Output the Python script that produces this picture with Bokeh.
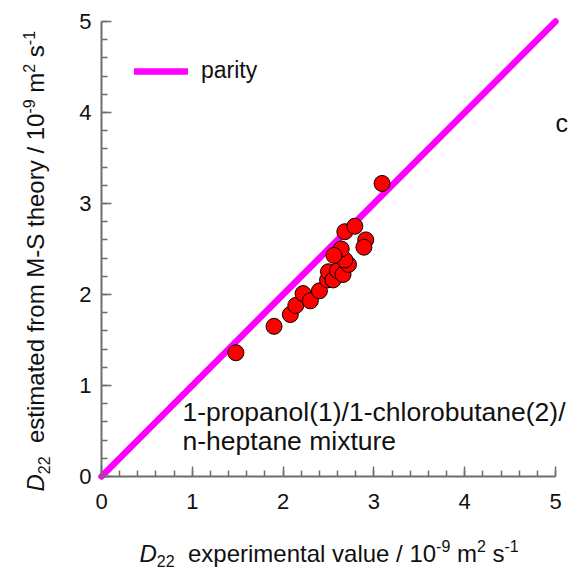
import math
from bokeh.plotting import figure
from bokeh.models import (Range1d, SingleIntervalTicker, Label, Legend, LegendItem)
from bokeh.embed import file_html
from bokeh.resources import INLINE

# ---------------- data ----------------
d22_experimental = [1.48, 1.90, 2.08, 2.14, 2.22, 2.30, 2.40, 2.49, 2.50, 2.55, 2.60,
                    2.66, 2.72, 2.68, 2.64, 2.56, 2.68, 2.79, 2.91, 2.89, 3.09]
d22_estimated = [1.36, 1.65, 1.78, 1.88, 2.01, 1.93, 2.04, 2.16, 2.25, 2.16, 2.26,
                 2.22, 2.33, 2.38, 2.50, 2.43, 2.69, 2.75, 2.60, 2.52, 3.22]
parity_x = [0, 5]
parity_y = [0, 5]
axis_min, axis_max = 0, 5

# ---------------- layout ----------------
FONT = "Liberation Sans"
W, H = 569, 569
AX_L, AX_R = 101.0, 555.0     # window px of x=0 and x=5
AX_B, AX_T = 476.0, 21.0      # window px of y=0 and y=5
PXX = (AX_R - AX_L) / (axis_max - axis_min)
PXY = (AX_B - AX_T) / (axis_max - axis_min)

x_range = Range1d(axis_min - AX_L / PXX, axis_min + (W - AX_L) / PXX)
y_range = Range1d(axis_min - (H - AX_B) / PXY, axis_min + AX_B / PXY)

p = figure(width=W, height=H, output_backend="svg", toolbar_location=None,
           x_range=x_range, y_range=y_range,
           min_border=0, background_fill_color="white", border_fill_color="white")
p.outline_line_color = None
p.grid.visible = False

for ax in (p.xaxis[0], p.yaxis[0]):
    ax.fixed_location = 0
    ax.bounds = (axis_min, axis_max)
    ax.ticker = SingleIntervalTicker(interval=1, num_minor_ticks=5)
    ax.axis_line_color = "#6e6e6e"
    ax.axis_line_width = 2
    ax.major_tick_line_color = "#6e6e6e"
    ax.minor_tick_line_color = "#6e6e6e"
    ax.major_tick_line_width = 1.5
    ax.minor_tick_line_width = 1.5
    ax.major_tick_in = 10
    ax.major_tick_out = 0
    ax.minor_tick_in = 6
    ax.minor_tick_out = 0
    ax.major_label_text_font = FONT
    ax.major_label_text_font_size = "22px"
    ax.major_label_text_color = "#111111"
p.xaxis[0].major_label_standoff = 17
p.yaxis[0].major_label_standoff = 10

# parity line
parity = p.line(parity_x, parity_y, line_color="#ff00ff", line_width=6.5, line_cap="round")
# data points
p.scatter(d22_experimental, d22_estimated, size=16, fill_color="#ff0000",
          line_color="#000000", line_width=1)

# helpers: window px -> data
def dx(px):
    return axis_min + (px - AX_L) / PXX
def dy(py):
    return axis_min + (AX_B - py) / PXY

legend = Legend(items=[LegendItem(label="parity", renderers=[parity])],
                location=(134, H - 72 - 12), orientation="vertical",
                glyph_width=54, glyph_height=24, label_standoff=13,
                padding=0, margin=0, spacing=0,
                border_line_color=None, background_fill_alpha=0,
                label_text_font=FONT, label_text_font_size="23px",
                label_text_color="#111111")
p.add_layout(legend, "center")

AW = {' ': 278, '-': 333, '/': 278, '(': 333, ')': 333, '0': 556, '1': 556, '2': 556,
      '9': 556, 'a': 556, 'd': 556, 'e': 556, 'f': 278, 'h': 556, 'i': 222, 'l': 222,
      'm': 833, 'n': 556, 'o': 556, 'p': 556, 'r': 333, 's': 500, 't': 278, 'u': 556,
      'v': 500, 'x': 500, 'y': 500, 'D': 722, 'M': 833, 'S': 667}
def tw(s, size):
    return sum(AW.get(c, 556) for c in s) * size / 1000.0

BL = 0.37   # observed baseline shift of Label text (fraction of font size)

F = 24
S = 16
SUB = 5.0
SUP = -10.0
def title_pieces(middle):
    return [("D", F, 0, "italic"), ("22", S, SUB, "normal"),
            ("  " + middle + " / 10", F, 0, "normal"), ("-9", S, SUP, "normal"),
            (" m", F, 0, "normal"), ("2", S, SUP, "normal"),
            (" s", F, 0, "normal"), ("-1", S, SUP, "normal")]

def split_lead(txt, size):
    stripped = txt.lstrip(" ")
    return tw(txt[:len(txt) - len(stripped)], size), stripped

# x title (horizontal)
x0, base = 139.0, 561.5
cur = 0.0
for txt, size, off, style in title_pieces("experimental value"):
    lead, t = split_lead(txt, size)
    cur += lead
    p.add_layout(Label(x=dx(x0 + cur), y=dy(base + off - BL * size), text=t,
                       text_font=FONT, text_font_size=f"{size}px", text_font_style=style,
                       text_color="#111111", text_align="left", text_baseline="alphabetic"))
    cur += tw(t, size)

# y title (rotated)
xb, y0 = 44.0, 491.0
cur = 0.0
for txt, size, off, style in title_pieces("estimated from M-S theory"):
    lead, t = split_lead(txt, size)
    cur += lead
    p.add_layout(Label(x=dx(xb + off - BL * size), y=dy(y0 - cur), text=t, angle=math.pi / 2,
                       text_font=FONT, text_font_size=f"{size}px", text_font_style=style,
                       text_color="#111111", text_align="left", text_baseline="alphabetic"))
    cur += tw(t, size)

# annotation
AF = 26.5
p.add_layout(Label(x=dx(182), y=dy(421.5 - BL * AF), text="1-propanol(1)/1-chlorobutane(2)/",
                   text_font=FONT, text_font_size=f"{AF}px", text_color="#111111",
                   text_baseline="alphabetic"))
p.add_layout(Label(x=dx(182), y=dy(450 - BL * AF), text="n-heptane mixture",
                   text_font=FONT, text_font_size=f"{AF}px", text_color="#111111",
                   text_baseline="alphabetic"))
CF = 25
p.add_layout(Label(x=dx(555), y=dy(131.5 - BL * CF), text="c",
                   text_font=FONT, text_font_size=f"{CF}px", text_color="#111111",
                   text_baseline="alphabetic"))

open("out.html", "w").write(file_html(p, INLINE))
